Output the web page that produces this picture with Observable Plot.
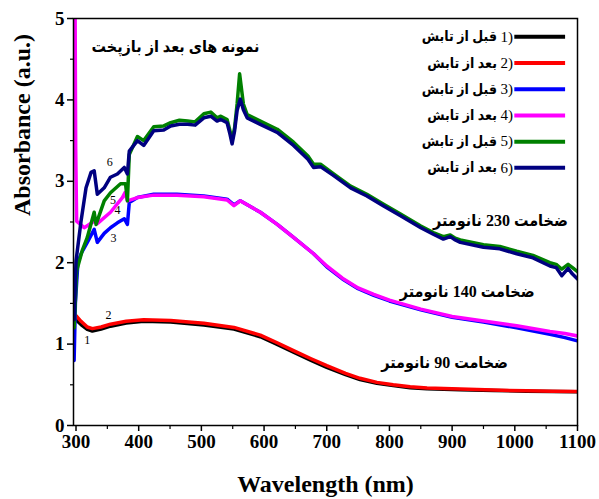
<!DOCTYPE html>
<html><head><meta charset="utf-8">
<script src="https://cdn.jsdelivr.net/npm/d3@7"></script>
<script src="https://cdn.jsdelivr.net/npm/@observablehq/plot@0.6"></script>
<style>body{margin:0;background:#fff}</style>
</head><body><div id="chart"></div>
<script>
// ---- data ----
const wl1 = [297, 300, 308, 318, 326, 340, 355, 380, 408, 451, 504, 552, 594, 620, 647, 675, 700, 730, 753, 780, 806, 833, 860, 913, 966, 1019, 1060, 1099];
const abs1 = [1.31, 1.30, 1.24, 1.18, 1.16, 1.185, 1.22, 1.26, 1.28, 1.27, 1.235, 1.185, 1.09, 1.0, 0.9, 0.80, 0.715, 0.625, 0.565, 0.52, 0.49, 0.465, 0.452, 0.44, 0.43, 0.422, 0.418, 0.415];
const wl2 = [297, 300, 308, 318, 326, 340, 355, 380, 408, 451, 504, 552, 594, 620, 647, 675, 700, 730, 753, 780, 806, 833, 860, 913, 966, 1019, 1060, 1099];
const abs2 = [1.36, 1.35, 1.28, 1.21, 1.19, 1.21, 1.245, 1.28, 1.30, 1.29, 1.255, 1.205, 1.11, 1.02, 0.92, 0.82, 0.735, 0.64, 0.58, 0.53, 0.50, 0.475, 0.46, 0.447, 0.435, 0.426, 0.42, 0.418];
const wl3 = [297, 299, 303, 308, 318, 329, 334, 345, 355, 366, 377, 382, 385, 398, 424, 461, 504, 541, 552, 562, 594, 621, 647, 679, 700, 725, 750, 775, 800, 850, 900, 950, 1003, 1056, 1080, 1100];
const abs3 = [0.8, 1.5, 2.0, 2.11, 2.25, 2.41, 2.25, 2.36, 2.43, 2.49, 2.54, 2.47, 2.74, 2.80, 2.84, 2.84, 2.82, 2.78, 2.71, 2.76, 2.62, 2.47, 2.31, 2.11, 1.95, 1.80, 1.68, 1.60, 1.53, 1.42, 1.33, 1.27, 1.20, 1.12, 1.08, 1.04];
const wl4 = [297, 298.5, 299.5, 301, 313, 329, 334, 355, 374, 378, 382, 398, 424, 461, 504, 541, 552, 562, 594, 621, 647, 679, 700, 725, 750, 775, 800, 850, 900, 950, 1003, 1056, 1080, 1100];
const abs4 = [5.6, 5.2, 3.4, 2.51, 2.43, 2.51, 2.48, 2.62, 2.80, 2.86, 2.76, 2.80, 2.83, 2.83, 2.81, 2.77, 2.70, 2.76, 2.62, 2.47, 2.31, 2.11, 1.96, 1.81, 1.69, 1.61, 1.54, 1.43, 1.34, 1.285, 1.225, 1.155, 1.13, 1.10];
const wl5 = [297, 301, 310, 318, 329, 332, 345, 355, 371, 379, 382, 385, 398, 408, 424, 440, 451, 465, 478, 490, 504, 515, 525, 531, 541, 545, 549, 553, 557, 561, 567, 573, 594, 621, 647, 670, 679, 690, 711, 738, 764, 790, 817, 850, 870, 886, 897, 905, 913, 950, 976, 1003, 1029, 1056, 1066, 1075, 1085, 1092, 1100];
const abs5 = [1.2, 1.9, 2.15, 2.31, 2.62, 2.47, 2.76, 2.86, 2.97, 2.97, 2.76, 3.33, 3.55, 3.50, 3.67, 3.68, 3.72, 3.75, 3.74, 3.73, 3.83, 3.85, 3.78, 3.80, 3.76, 3.64, 3.50, 3.66, 3.95, 4.32, 3.95, 3.82, 3.74, 3.64, 3.48, 3.31, 3.21, 3.21, 3.09, 2.94, 2.84, 2.72, 2.60, 2.45, 2.37, 2.32, 2.34, 2.30, 2.28, 2.22, 2.20, 2.14, 2.09, 2.00, 1.98, 1.92, 1.98, 1.94, 1.89];
const wl6 = [297, 300, 308, 316, 324, 329, 334, 345, 355, 366, 377, 382, 385, 398, 408, 424, 440, 451, 465, 478, 490, 504, 515, 525, 531, 541, 545, 549, 553, 557, 562, 567, 573, 594, 621, 647, 670, 679, 690, 711, 738, 764, 790, 817, 850, 870, 886, 897, 905, 913, 950, 976, 1003, 1029, 1056, 1066, 1075, 1085, 1092, 1100];
const abs6 = [1.3, 2.02, 2.51, 2.92, 3.11, 3.13, 2.84, 2.92, 3.05, 3.09, 3.17, 3.09, 3.37, 3.50, 3.44, 3.62, 3.63, 3.68, 3.70, 3.70, 3.69, 3.78, 3.80, 3.74, 3.76, 3.72, 3.60, 3.46, 3.62, 3.87, 4.01, 3.88, 3.78, 3.70, 3.60, 3.44, 3.27, 3.17, 3.18, 3.07, 2.92, 2.82, 2.70, 2.58, 2.43, 2.35, 2.29, 2.32, 2.28, 2.25, 2.19, 2.17, 2.11, 2.06, 1.96, 1.94, 1.84, 1.93, 1.86, 1.80];

const seriesIds = [1, 2, 3, 4, 5, 6];
const seriesColors = ["#000000", "#ff0000", "#0000ff", "#ff00ff", "#008000", "#000080"];
const seriesWl = [wl1, wl2, wl3, wl4, wl5, wl6];
const seriesAbs = [abs1, abs2, abs3, abs4, abs5, abs6];
const legendNums = ["1)", "2)", "3)", "4)", "5)", "6)"];
const legendTexts = ["قبل از تابش", "بعد از تابش", "قبل از تابش", "بعد از تابش", "قبل از تابش", "بعد از تابش"];

const xMajor = [300, 400, 500, 600, 700, 800, 900, 1000, 1100];
const xMinor = [350, 450, 550, 650, 750, 850, 950, 1050];
const yMajor = [0, 1, 2, 3, 4, 5];
const yMinor = [0.5, 1.5, 2.5, 3.5, 4.5];

const titleText = "نمونه های بعد از بازپخت";
const thickLabels = ["ضخامت 230 نانومتر", "ضخامت 140 نانومتر", "ضخامت 90 نانومتر"];
const thickX = [977, 924, 888];
const thickY = [2.51, 1.64, 0.77];
const curveNums = ["1", "2", "3", "4", "5", "6"];
const curveNumX = [318, 352, 360, 366, 359, 354];
const curveNumY = [1.05, 1.36, 2.30, 2.64, 2.77, 3.23];

// legend anchor (data units)
const legendTop = 4.775, legendStep = 0.322, legendX1 = 1000, legendX2 = 1081, legendTextX = 997;

// ---- build tables ----
const rows = seriesIds.flatMap((id, k) => seriesWl[k].map((w, i) => ({s: id, w, a: seriesAbs[k][i]})));
const legendRows = seriesIds.map((id, k) => ({id, color: seriesColors[k], num: legendNums[k], txt: legendTexts[k], y: legendTop - k * legendStep}));
const thickRows = thickLabels.map((t, i) => ({t, x: thickX[i], y: thickY[i]}));
const numRows = curveNums.map((t, i) => ({t, x: curveNumX[i], y: curveNumY[i]}));

const serif = "'Liberation Serif','Times New Roman',serif";
const arab = "'Liberation Serif','DejaVu Sans Condensed','DejaVu Sans',sans-serif";

const chart = Plot.plot({
  width: 599, height: 499,
  marginLeft: 73, marginRight: 22, marginTop: 18, marginBottom: 74,
  x: {domain: [296, 1100]},
  y: {domain: [0, 5]},
  style: {fontFamily: serif, background: "#fff", color: "#000", overflow: "visible"},
  marks: [
    ...seriesIds.map((id, k) => Plot.line(rows.filter(d => d.s === id), {x: "w", y: "a", stroke: seriesColors[k], strokeWidth: 3.5, clip: true})),
    Plot.frame({stroke: "#000", strokeWidth: 1.5}),
    Plot.axisX({ticks: xMajor, tickSize: 6, tickPadding: 3, tickFormat: "d", fontSize: 19, fontWeight: "bold", label: null, strokeWidth: 1.5}),
    Plot.axisX({ticks: xMinor, tickSize: 4, text: null, label: null, strokeWidth: 1.2}),
    Plot.axisY({ticks: yMajor, tickSize: 6, tickPadding: 3, tickFormat: "d", fontSize: 19, fontWeight: "bold", label: null, strokeWidth: 1.5}),
    Plot.axisY({ticks: yMinor, tickSize: 3, text: null, label: null, strokeWidth: 1.2}),
    Plot.text(["Wavelength (nm)"], {frameAnchor: "bottom", dy: 66, fontSize: 24, fontWeight: "bold", fontFamily: serif}),
    Plot.text(["Absorbance (a.u.)"], {frameAnchor: "left", rotate: -90, dx: -51, dy: -6, fontSize: 24, fontWeight: "bold", fontFamily: serif}),
    Plot.text([titleText], {frameAnchor: "top-left", dx: 102, dy: 22, textAnchor: "middle", fontSize: 16, fontWeight: "bold", fontFamily: arab}),
    Plot.text(thickRows, {x: "x", y: "y", text: "t", fontSize: 16, fontWeight: "bold", fontFamily: arab}),
    Plot.text(numRows, {x: "x", y: "y", text: "t", fontSize: 12, fontFamily: serif}),
    Plot.ruleY(legendRows, {y: "y", x1: () => legendX1, x2: () => legendX2, stroke: "color", strokeWidth: 4}),
    Plot.text(legendRows, {x: () => legendTextX, y: "y", text: "num", textAnchor: "end", fontSize: 15, fontFamily: serif}),
    Plot.text(legendRows, {x: () => legendTextX, y: "y", text: "txt", textAnchor: "end", dx: -16, fontSize: 14, fontWeight: "bold", fontFamily: arab})
  ]
});
document.getElementById("chart").append(chart);
</script>
</body></html>
